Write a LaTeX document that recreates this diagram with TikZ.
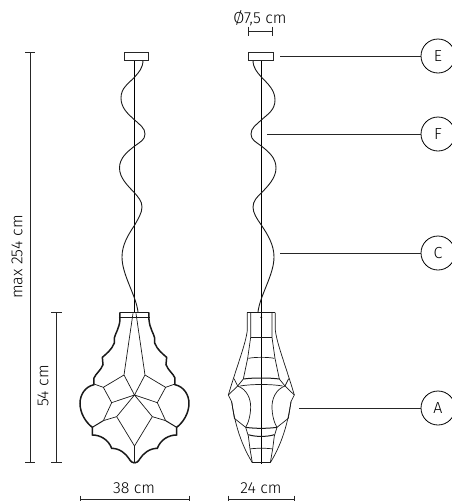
\documentclass[tikz,border=0pt]{standalone}
\usepackage{fontspec}
\setmainfont{Fira Sans Light}
\tikzset{
  dim/.style={line width=0.8pt,draw=black!85},
  leader/.style={line width=0.8pt,draw=black!85},
  cable/.style={line width=0.9pt,draw=black!90},
  rod/.style={line width=0.9pt,draw=black},
  canopy/.style={line width=0.9pt,draw=black!85,fill=white},
  thin/.style={line width=0.7pt,draw=black!90},
  heavy/.style={line width=1.5pt,draw=black!90},
  txt/.style={font=\fontsize{16}{18}\selectfont,text=black,inner sep=0pt},
  letter/.style={circle,draw=black,line width=0.8pt,minimum size=34pt,inner sep=0pt,font=\fontsize{16}{17}\selectfont,text=black},
}
\begin{document}
\begin{tikzpicture}[x=1pt,y=-1pt]
\useasboundingbox (0,0) rectangle (452,501);
\clip (0,0) rectangle (452,501);
% dimensions
\draw[dim] (30,52) -- (30,462) (25,52) -- (35,52) (25,462) -- (35,462);
\draw[dim] (56.5,312) -- (56.5,462) (51,312) -- (62,312) (51,462) -- (62,462);
\draw[dim] (80,499.5) -- (189,499.5) (80,495.5) -- (80,501) (189,495.5) -- (189,501);
\draw[dim] (228,499.5) -- (294,499.5) (228,495.5) -- (228,501) (294,495.5) -- (294,501);
\draw[dim] (248,31) -- (272,31) (248,26.5) -- (248,35.5) (272,26.5) -- (272,35.5);
\node[txt,rotate=90] (t254) at (17,257) {max 254 cm};
\node[txt,rotate=90] (t54) at (43,386) {54 cm};
\node[txt] (t38) at (134,488) {38 cm};
\node[txt] (t24) at (261,488) {24 cm};
\node[txt] (t75) at (260,18) {Ø7,5 cm};
% callouts
\node[letter] (E) at (438,56) {E};
\node[letter] (F) at (438,134) {F};
\node[letter] (C) at (438,253) {C};
\node[letter] (A) at (438,408) {A};
\coordinate (e0) at (280,56);
\coordinate (f0) at (267,134);
\coordinate (c0) at (280,253);
\coordinate (a0) at (299,408);
\draw[leader] (e0) -- (E.west);
\draw[leader] (f0) -- (F.west);
\draw[leader] (c0) -- (C.west);
\draw[leader] (a0) -- (A.west);
% left lamp cable
\draw[rod] (134.7,60) -- (134.7,312);
\draw[cable] (143,60) .. controls (143,68) and (139,72) .. (134.7,77)
  .. controls (128,84) and (121,88) .. (121,98)
  .. controls (121,108) and (128,114) .. (134.7,120)
  .. controls (140,125) and (145,128) .. (145,134)
  .. controls (145,140) and (140,142) .. (134.7,146)
  .. controls (127,152) and (119.5,158) .. (119.5,168)
  .. controls (119.5,178) and (128,186) .. (134.7,193)
  .. controls (138,197) and (142,201) .. (142,207)
  .. controls (142,213) and (138,219) .. (134.7,225)
  .. controls (128,235) and (122,245) .. (122,257)
  .. controls (122,275) and (136,295) .. (138,312);
\draw[canopy] (124,52) rectangle (148,60);
% right lamp cable
\draw[rod] (261.3,60) -- (261.3,464);
\draw[cable] (253,60) .. controls (253,68) and (257,72) .. (261.3,77)
  .. controls (268,84) and (275,90) .. (275,100)
  .. controls (275,110) and (268,114) .. (261.3,120)
  .. controls (256,125) and (251,128) .. (251,134)
  .. controls (251,140) and (256,142) .. (261.3,146)
  .. controls (269,152) and (276,158) .. (276,168)
  .. controls (276,178) and (268,186) .. (261.3,193)
  .. controls (257,197) and (253,201) .. (253,207)
  .. controls (253,213) and (257,219) .. (261.3,225)
  .. controls (268,235) and (274,245) .. (274,257)
  .. controls (274,275) and (260,295) .. (258,312);
\draw[canopy] (248,52) rectangle (273,60);
% front lamp
\begin{scope}[shift={(70,300)},x=0.3333pt,y=-0.3333pt]
  \draw[thin] (146,52) -- (241,52);
  \draw[heavy] (150,37) -- (237,37);
  \foreach \s/\a in {1/0,-1/387}{
   \begin{scope}[shift={(\a,0)},xscale=\s]
    \draw[heavy] (150,37) -- (150,59) .. controls (148,85) and (136,100) .. (133,114) -- (133,129)
      .. controls (125,150) and (108,162) .. (97,172) -- (99,194)
      .. controls (92,212) and (78,220) .. (72,234) -- (72,254)
      .. controls (45,260) and (30,285) .. (30,310)
      .. controls (30,340) and (48,368) .. (67,382) -- (67,405)
      .. controls (90,405) and (115,418) .. (125,445)
      .. controls (150,445) and (168,462) .. (177,476)
      .. controls (182,485) and (188,489) .. (193.5,489);
    \draw[thin] (189,40) -- (162,225) -- (193.5,285) (162,225) -- (100,262) -- (72,252)
      (100,262) -- (125,308) -- (193.5,285) (125,308) -- (100,362)
      (100,362) -- (140,350) -- (193.5,285) (140,350) -- (193.5,438);
    \draw[line width=1pt,draw=black!90] (100,362) -- (67,382);
   \end{scope}}
  \draw[thin] (193.5,438) -- (193.5,489);
\end{scope}
% side lamp
\begin{scope}[shift={(220,300)},x=0.3333pt,y=-0.3333pt]
  \draw[thin] (82,38) -- (166,38);
  \foreach \s/\a in {1/0,-1/248}{
   \begin{scope}[shift={(\a,0)},xscale=\s]
    \draw[thin] (82,38) -- (82,90) .. controls (78,130) and (50,200) .. (25,285)
      -- (35,305) .. controls (42,350) and (55,420) .. (97,488);
    \draw[thin] (92,38) -- (92,112) -- (83,175) -- (70,237) -- (53,258) -- (25,285);
    \draw[thin] (42,236) -- (53,258);
    \draw[thin] (35,305) -- (43,355) -- (77,382);
    \draw[thin] (53,258) .. controls (80,268) and (92,295) .. (92,320) .. controls (92,345) and (85,370) .. (77,382);
    \draw[thin] (77,382) -- (85,408) -- (90,447) -- (97,488);
   \end{scope}}
  \draw[line width=1pt,draw=black!90] (92,112) -- (156,112);
  \draw[thin] (85,175) .. controls (105,171) and (143,171) .. (163,175);
  \draw[line width=1pt,draw=black!90] (70,237) .. controls (100,233) and (148,233) .. (178,237);
  \draw[thin] (60,258) .. controls (95,252) and (153,252) .. (188,258);
  \draw[line width=1pt,draw=black!90] (77,382) .. controls (105,386) and (143,386) .. (171,382);
  \draw[line width=1pt,draw=black!90] (85,404) .. controls (105,411) and (143,411) .. (163,404);
  \draw[thin] (90,447) .. controls (105,444) and (143,444) .. (158,447);
  \draw[thin] (97,488) -- (151,488);
  \fill (124,52) circle (3);
\end{scope}
\end{tikzpicture}
\end{document}
